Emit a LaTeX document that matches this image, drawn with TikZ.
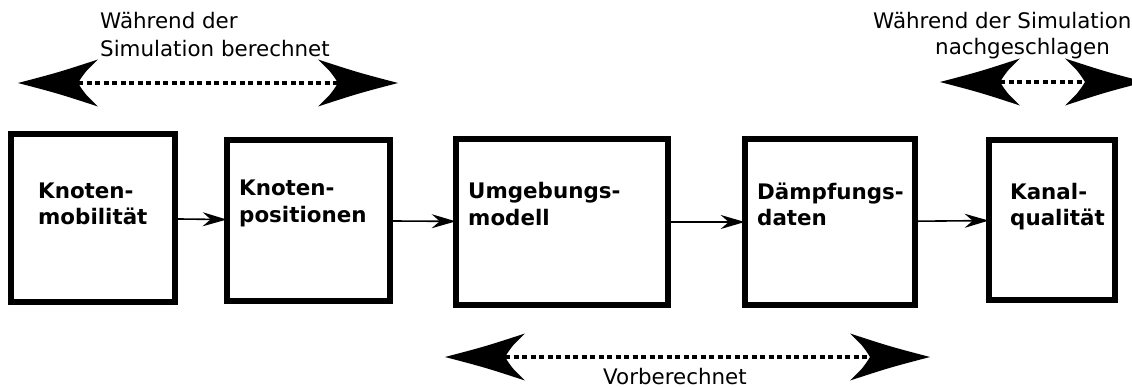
\documentclass[tikz,border=0pt]{standalone}
\usepackage{fontspec}
\setmainfont{DejaVu Sans}
\usetikzlibrary{arrows.meta}
\tikzset{
  box/.style={draw, line width=6pt, inner sep=0pt, outer sep=0pt},
  boxtext/.style={anchor=base west, inner sep=0pt, font=\fontsize{21.4}{27}\selectfont\bfseries},
  lbl/.style={anchor=base west, inner sep=0pt, font=\fontsize{21.4}{27}\selectfont},
  flow/.style={line width=1.6pt, -{Stealth[length=24pt,width=14pt,inset=8pt]}},
  dots/.style={line width=4.6pt, dash pattern=on 5pt off 3.5pt},
}
\newcommand\bighead[2]{%
  \fill[shift={(#1)}, rotate=#2] (0,0) .. controls (-40,10.5) .. (-80,23.5) .. controls (-67,11) .. (-60,0) .. controls (-67,-11) .. (-80,-23.5) .. controls (-40,-10.5) .. (0,0) -- cycle;}
\begin{document}
\begin{tikzpicture}[x=1pt, y=-1pt]
\useasboundingbox (0,0) rectangle (1132,387);
\clip (0,0) rectangle (1132,387);

% boxes
\node[box, minimum width=164.6pt, minimum height=168.6pt] (b1) at (93,218) {};
\node[box, minimum width=163.6pt, minimum height=161.6pt] (b2) at (308.5,220.5) {};
\node[box, minimum width=212.6pt, minimum height=166.6pt] (b3) at (562,222) {};
\node[box, minimum width=170.6pt, minimum height=166.6pt] (b4) at (830,222) {};
\node[box, minimum width=126.6pt, minimum height=160.6pt] (b5) at (1052,220) {};

% box texts
\node[boxtext] (t1a) at (38,199) {Knoten-};
\node[boxtext] (t1b) at (38,225) {mobilität};
\node[boxtext] (t2a) at (239,196) {Knoten-};
\node[boxtext] (t2b) at (239,223) {positionen};
\node[boxtext] (t3a) at (468,199) {Umgebungs-};
\node[boxtext] (t3b) at (468,226) {modell};
\node[boxtext] (t4a) at (757,200) {Dämpfungs-};
\node[boxtext] (t4b) at (757,226) {daten};
\node[boxtext] (t5a) at (1010,200) {Kanal-};
\node[boxtext] (t5b) at (1010,226) {qualität};

% flow arrows
\draw[flow] (b1) -- (b2);
\draw[flow] (b2) -- (b3);
\draw[flow] (b3) -- (b4);
\draw[flow] (b4) -- (b5);

% top-left double arrow
\coordinate (tlL) at (18,83);
\coordinate (tlR) at (398,83);
\coordinate (tlLn) at (78,83);
\coordinate (tlRn) at (338,83);
\draw[dots] (tlLn) -- (tlRn);
\bighead{tlL}{180}
\bighead{tlR}{0}
\node[lbl] (tlt1) at (100,29) {Während der};
\node[lbl] (tlt2) at (100,57) {Simulation berechnet};

% top-right double arrow
\coordinate (trL) at (940,82);
\coordinate (trR) at (1145,82);
\coordinate (trLn) at (1000,82);
\coordinate (trRn) at (1085,82);
\draw[dots] (trLn) -- (trRn);
\bighead{trL}{180}
\bighead{trR}{0}
\node[lbl] (trt1) at (873,29) {Während der Simulation};
\node[lbl] (trt2) at (935,55) {nachgeschlagen};

% bottom double arrow
\coordinate (bL) at (445,357);
\coordinate (bR) at (930,357);
\coordinate (bLn) at (505,357);
\coordinate (bRn) at (870,357);
\draw[dots] (bLn) -- (bRn);
\bighead{bL}{180}
\bighead{bR}{0}
\node[lbl] (bt) at (603,384) {Vorberechnet};
\end{tikzpicture}
\end{document}
